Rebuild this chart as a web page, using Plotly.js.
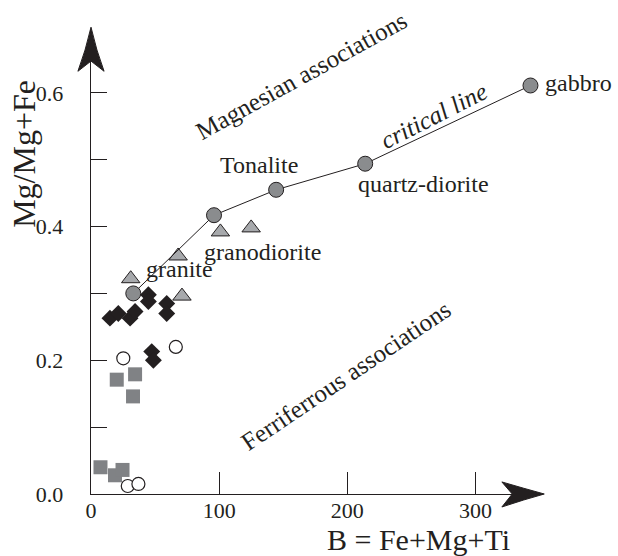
<!DOCTYPE html>
<html>
<head>
<meta charset="utf-8">
<script src="https://cdn.plot.ly/plotly-3.0.1.min.js"></script>
<style>html,body{margin:0;padding:0;background:#fff;}#chart{width:618px;height:556px;}</style>
</head>
<body>
<div id="chart"></div>
<script>
// ---- data (B = Fe+Mg+Ti, Mg/Mg+Fe) ----
const criticalX = [33, 96, 144.5, 214, 343];
const criticalY = [0.300, 0.417, 0.455, 0.494, 0.611];
const triangleX = [31, 68, 101, 125, 71];
const triangleY = [0.322, 0.356, 0.392, 0.398, 0.296];
const diamondX = [14.8, 21.3, 30.5, 34.4, 44.8, 44.8, 59.1, 59.1, 47.4, 48.7];
const diamondY = [0.263, 0.270, 0.263, 0.273, 0.298, 0.288, 0.285, 0.270, 0.213, 0.200];
const openX = [25.2, 66.2, 28.7, 37.0];
const openY = [0.203, 0.220, 0.012, 0.015];
const squareX = [7.4, 18.75, 24.6, 20.1, 34.4, 32.8];
const squareY = [0.040, 0.028, 0.036, 0.171, 0.179, 0.146];
const xTickVals = [0, 100, 200, 300];
const xTickText = ['0', '100', '200', '300'];
const yTickVals = [0, 0.1, 0.2, 0.3, 0.4, 0.5, 0.6];
const yTickText = ['0.0', '', '0.2', '', '0.4', '', '0.6'];

const INK = '#231f20';
const FONT = '"Liberation Serif"';

const traces = [
  {x: squareX, y: squareY, type: 'scatter', mode: 'markers', cliponaxis: false,
   marker: {symbol: 'square', size: 14, color: '#808285', line: {width: 0}}},
  {x: openX, y: openY, type: 'scatter', mode: 'markers', cliponaxis: false,
   marker: {symbol: 'circle', size: 13, color: '#ffffff', line: {color: INK, width: 1.2}}},
  {x: diamondX, y: diamondY, type: 'scatter', mode: 'markers', cliponaxis: false,
   marker: {symbol: 'diamond', size: 13, color: INK, line: {width: 0}}},
  {x: triangleX, y: triangleY, type: 'scatter', mode: 'markers', cliponaxis: false,
   marker: {symbol: 'triangle-up', size: 16, color: '#a7a9ac', line: {color: INK, width: 1}}},
  {x: criticalX, y: criticalY, type: 'scatter', mode: 'lines+markers', cliponaxis: false,
   line: {color: INK, width: 1},
   marker: {symbol: 'circle', size: 15, color: '#8a8c8e', line: {color: INK, width: 1}}}
];

function txt(x, y, text, opts) {
  return Object.assign({x: x, y: y, xref: 'x', yref: 'y', text: text, showarrow: false,
    font: {family: FONT, size: 24, color: INK}, xanchor: 'center', yanchor: 'middle'}, opts || {});
}

const annotations = [
  txt(68.75, 0.3367, 'granite'),
  txt(133.6, 0.362, 'granodiorite'),
  txt(130.9, 0.492, 'Tonalite'),
  txt(259.4, 0.464, 'quartz-diorite'),
  txt(1.082, 0.885, 'gabbro', {xref: 'paper', yref: 'paper'}),
  txt(268, 0.5656, '<i>critical line</i>', {textangle: -27, font: {family: FONT, size: 25, color: INK}}),
  txt(164.5, 0.626, 'Magnesian associations', {textangle: -29, font: {family: FONT, size: 25, color: INK}}),
  txt(199.2, 0.1766, 'Ferriferrous associations', {textangle: -34, font: {family: FONT, size: 25, color: INK}}),
  txt(0.727, -0.099, 'B = Fe+Mg+Ti', {xref: 'paper', yref: 'paper', font: {family: FONT, size: 30, color: INK}}),
  txt(-0.1486, 0.733, 'Mg/Mg+Fe', {xref: 'paper', yref: 'paper', textangle: -90, font: {family: FONT, size: 32, color: INK}})
];

const shapes = [
  {type: 'path', xref: 'paper', yref: 'paper', layer: 'above',
   path: 'M 0 1.006 Q -0.012 0.955 -0.029 0.911 L 0 0.933 L 0.029 0.911 Q 0.012 0.955 0 1.006 Z',
   fillcolor: INK, line: {color: INK, width: 1}},
  {type: 'path', xref: 'paper', yref: 'paper', layer: 'above',
   path: 'M 1.005 0 Q 0.96 0.012 0.911 0.026 L 0.934 0 L 0.911 -0.028 Q 0.96 -0.012 1.005 0 Z',
   fillcolor: INK, line: {color: INK, width: 1}}
];

const layout = {
  width: 618, height: 556,
  margin: {l: 91, r: 76, t: 30, b: 62, pad: 0},
  paper_bgcolor: '#ffffff', plot_bgcolor: '#ffffff',
  showlegend: false,
  font: {family: FONT, color: INK},
  xaxis: {range: [0, 352], showgrid: false, zeroline: false, showline: true,
    linecolor: INK, linewidth: 1.3, ticks: 'inside', ticklen: 22, tickwidth: 1, tickcolor: INK,
    tickvals: xTickVals, ticktext: xTickText, tickfont: {family: FONT, size: 22, color: INK},
    ticklabelstandoff: -4, title: {text: ''}},
  yaxis: {range: [0, 0.694], showgrid: false, zeroline: false, showline: true,
    linecolor: INK, linewidth: 1.3, ticks: 'inside', ticklen: 16, tickwidth: 1, tickcolor: INK,
    tickvals: yTickVals, ticktext: yTickText, tickfont: {family: FONT, size: 22, color: INK},
    ticklabelstandoff: 22, title: {text: ''}},
  annotations: annotations,
  shapes: shapes
};

Plotly.newPlot('chart', traces, layout, {displayModeBar: false, staticPlot: true});
</script>
</body>
</html>
